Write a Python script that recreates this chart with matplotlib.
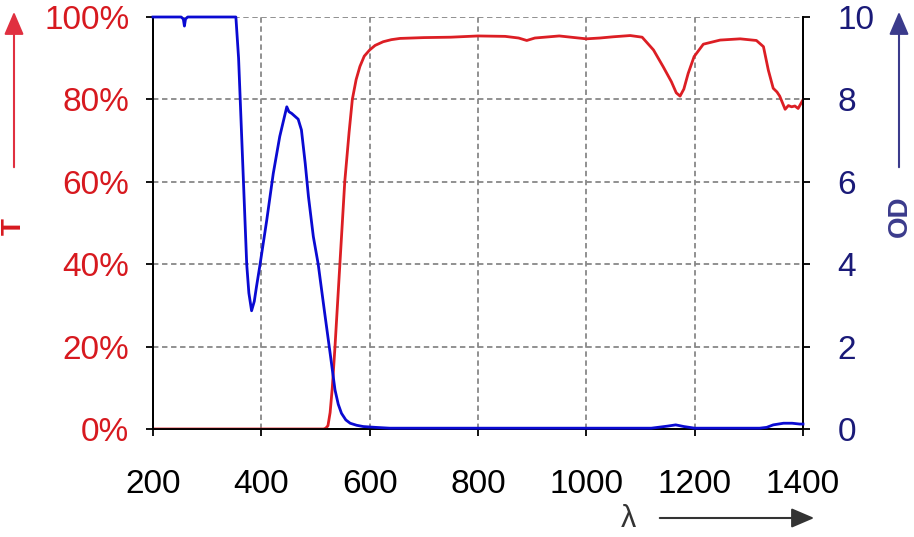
import numpy as np
import matplotlib
matplotlib.use("Agg")
import matplotlib.pyplot as plt

plt.rcParams['font.family'] = ['Liberation Sans', 'DejaVu Sans']

# transmission curve (%)
wl_T = [200, 515, 519, 523, 527, 531, 536, 545, 554, 562, 568, 575, 582, 590, 600, 610, 625, 640, 656,
        700, 750, 800, 850, 875, 890, 905, 950, 1000, 1025, 1050, 1081, 1103, 1124,
        1142, 1157, 1166, 1173, 1180, 1188, 1199, 1216, 1247, 1284, 1314, 1327, 1336,
        1345, 1352, 1357, 1367, 1373, 1379, 1385, 1391, 1400]
T = [0, 0, 0.2, 0.8, 4, 10, 20, 40, 60, 72, 80, 84.8, 88, 90.5, 92, 93.1, 94, 94.5, 94.8,
     95, 95.1, 95.4, 95.3, 94.9, 94.3, 94.9, 95.4, 94.7, 94.9, 95.2, 95.5, 95.1, 92,
     87.9, 84.3, 81.6, 80.8, 82.5, 86.3, 90.4, 93.4, 94.4, 94.7, 94.3, 92.8, 87.1,
     82.7, 81.8, 80.8, 77.6, 78.5, 78.2, 78.4, 77.8, 79.9]

# optical density
wl_OD = [200, 252, 256, 258, 260, 264, 353, 358, 361, 367, 373, 377, 382, 387, 391,
         397, 410, 422, 434, 443, 447, 451, 456, 468, 474, 481, 487, 496, 505, 508,
         517, 527, 536, 542, 548, 556, 564, 576, 588, 610, 637, 700, 1000, 1120, 1150,
         1165, 1180, 1200, 1320, 1333, 1345, 1364, 1380, 1394, 1400]
OD = [10, 10, 9.95, 9.78, 9.95, 10, 10, 9, 8, 6, 4, 3.3, 2.87, 3.1, 3.45,
      3.94, 5.07, 6.2, 7.1, 7.6, 7.82, 7.7, 7.66, 7.52, 7.26, 6.45, 5.64, 4.67, 4.0, 3.7,
      2.81, 1.84, 0.95, 0.6, 0.38, 0.22, 0.14, 0.09, 0.06, 0.04, 0.02, 0.02, 0.02, 0.02, 0.07,
      0.1, 0.06, 0.02, 0.02, 0.04, 0.1, 0.14, 0.14, 0.12, 0.12]

x_ticks = [200, 400, 600, 800, 1000, 1200, 1400]
t_ticks = [0, 20, 40, 60, 80, 100]
od_ticks = [0, 2, 4, 6, 8, 10]

red = '#dc1e24'
red_lbl = '#d7191f'
navy = '#1a1a78'
purple = '#3b3b8c'
blue = '#0a0ad2'

fig = plt.figure(figsize=(9.14, 5.37), dpi=100)
ax = fig.add_axes([153/914, 108/537, 650/914, 412/537])
ax2 = ax.twinx()

ax.plot(wl_T, T, color=red, lw=2.0, zorder=3)
ax2.plot(wl_OD, OD, color=blue, lw=2.0, clip_on=False, zorder=3)

ax.set_xlim(200, 1400)
ax.set_ylim(0, 100)
ax2.set_ylim(0, 10)
ax.set_xticks(x_ticks)
ax.set_yticks(t_ticks)
ax.set_yticklabels([f'{v}%' for v in t_ticks])
ax2.set_yticks(od_ticks)

ax.grid(True, color='#888888', ls=(0, (3, 2)), lw=1.3)
ax.set_axisbelow(True)

for a in (ax, ax2):
    a.spines['top'].set_visible(False)
    for s in ('left', 'right', 'bottom'):
        a.spines[s].set_linewidth(1.3)
        a.spines[s].set_color('black')

ax.tick_params(axis='x', labelsize=24, length=5, width=1.3, pad=24, colors='black')
ax.tick_params(axis='y', labelsize=24, length=5, width=1.3, pad=12, labelcolor=red_lbl)
ax2.tick_params(axis='y', labelsize=24, length=5, width=1.3, pad=20, labelcolor=navy)

# axis names with arrows
fig.text(14/914, 1 - 227/537, 'T', rotation=90, color=red_lbl, fontsize=20,
         fontweight='bold', ha='center', va='center')
fig.add_artist(matplotlib.patches.FancyArrowPatch(
    (14/914, 1 - 170/537), (14/914, 1 - 9/537), transform=fig.transFigure,
    arrowstyle='-|>,head_length=0.7,head_width=0.3', mutation_scale=20, color='#e03040', lw=1.5))

fig.text(900/914, 1 - 216/537, 'OD', rotation=90, color=purple, fontsize=20,
         fontweight='bold', ha='center', va='center')
fig.add_artist(matplotlib.patches.FancyArrowPatch(
    (899/914, 1 - 170/537), (899/914, 1 - 9/537), transform=fig.transFigure,
    arrowstyle='-|>,head_length=0.7,head_width=0.3', mutation_scale=20, color=purple, lw=1.5))

fig.text(628/914, 1 - 519/537, 'λ', color='#333333', fontsize=22, ha='center', va='center')
fig.add_artist(matplotlib.patches.FancyArrowPatch(
    (657/914, 1 - 518/537), (817/914, 1 - 518/537), transform=fig.transFigure,
    arrowstyle='-|>,head_length=0.7,head_width=0.3', mutation_scale=20, color='#333333', lw=1.5))

fig.savefig('out.png', dpi=100)
